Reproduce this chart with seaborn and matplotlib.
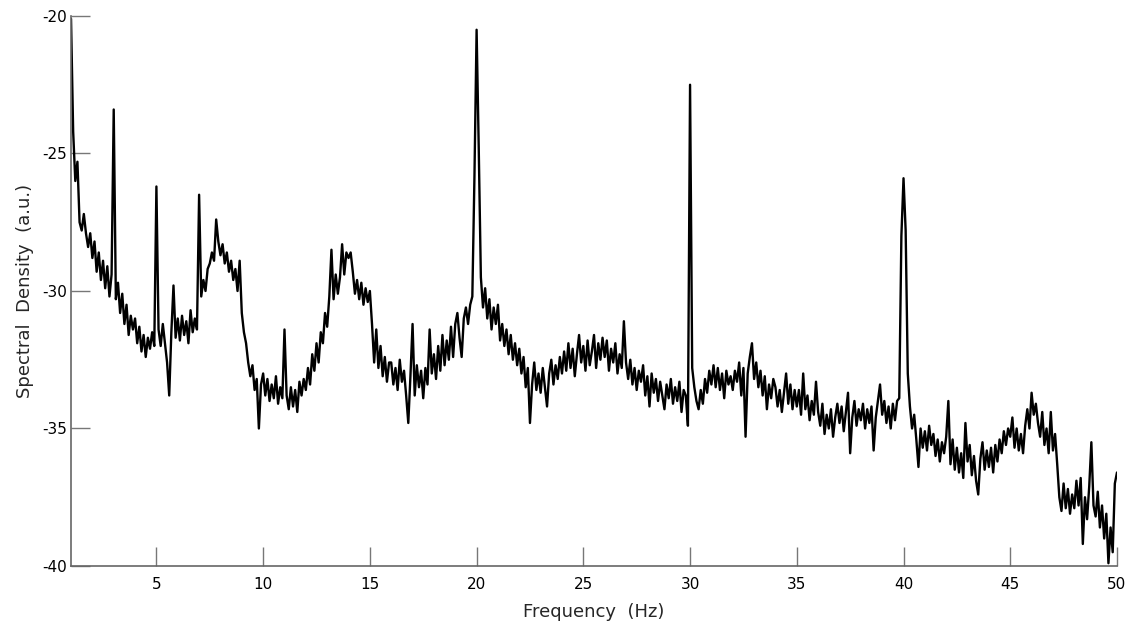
import numpy as np
import pandas as pd
import seaborn as sns
import matplotlib.pyplot as plt

# spectral density (a.u.), one row per Hz, 0.1 Hz steps
density_rows = [
    [-20.1, -24.2, -26.0, -25.3, -27.5, -27.8, -27.2, -27.9, -28.4, -27.9],  # 1
    [-28.8, -28.2, -29.3, -28.6, -29.6, -28.9, -29.9, -29.1, -30.2, -29.4],  # 2
    [-23.4, -30.3, -29.7, -30.8, -30.1, -31.2, -30.5, -31.6, -30.9, -31.4],  # 3
    [-31.0, -31.9, -31.3, -32.2, -31.6, -32.4, -31.7, -32.1, -31.5, -32.0],  # 4
    [-26.2, -31.4, -32.0, -31.2, -31.9, -32.6, -33.8, -31.5, -29.8, -31.7],  # 5
    [-31.0, -31.8, -30.9, -31.6, -31.1, -31.9, -30.7, -31.5, -31.0, -31.4],  # 6
    [-26.5, -30.2, -29.6, -30.0, -29.2, -29.0, -28.6, -28.9, -27.4, -28.2],  # 7
    [-28.7, -28.3, -29.0, -28.6, -29.3, -28.9, -29.6, -29.2, -30.0, -28.9],  # 8
    [-30.8, -31.5, -31.9, -32.6, -33.1, -32.7, -33.6, -33.2, -35.0, -33.4],  # 9
    [-33.0, -33.8, -33.2, -34.0, -33.4, -33.9, -33.1, -34.1, -33.5, -33.9],  # 10
    [-31.4, -33.8, -34.3, -33.5, -34.2, -33.6, -34.4, -33.3, -33.8, -33.2],  # 11
    [-33.6, -32.8, -33.4, -32.3, -32.9, -31.9, -32.6, -31.5, -31.9, -30.8],  # 12
    [-31.3, -30.2, -28.5, -30.3, -29.4, -30.1, -29.5, -28.3, -29.4, -28.6],  # 13
    [-28.8, -28.6, -29.3, -30.1, -29.6, -30.3, -29.7, -30.5, -29.9, -30.4],  # 14
    [-30.0, -31.2, -32.6, -31.4, -32.8, -32.0, -33.1, -32.4, -33.3, -32.6],  # 15
    [-32.6, -33.4, -32.8, -33.6, -32.5, -33.3, -32.9, -33.8, -34.8, -33.1],  # 16
    [-31.2, -33.8, -32.7, -33.5, -32.9, -33.9, -32.8, -33.4, -31.4, -33.0],  # 17
    [-32.3, -33.2, -32.0, -32.9, -31.6, -32.7, -31.8, -32.5, -31.3, -32.4],  # 18
    [-31.2, -30.8, -31.7, -32.4, -31.0, -30.6, -31.2, -30.5, -30.2, -25.8],  # 19
    [-20.5, -24.8, -29.5, -30.6, -29.9, -31.0, -30.3, -31.4, -30.6, -31.2],  # 20
    [-30.5, -31.8, -31.2, -32.0, -31.4, -32.3, -31.6, -32.5, -31.9, -32.7],  # 21
    [-32.1, -33.0, -32.4, -33.5, -32.8, -34.8, -33.4, -32.6, -33.6, -33.0],  # 22
    [-33.7, -32.8, -33.5, -34.2, -33.0, -32.5, -33.4, -32.7, -33.2, -32.4],  # 23
    [-33.0, -32.2, -32.9, -31.9, -32.8, -32.1, -33.1, -32.3, -31.6, -32.6],  # 24
    [-32.0, -32.9, -31.8, -32.7, -32.2, -31.6, -32.8, -31.9, -32.5, -31.7],  # 25
    [-32.4, -31.8, -32.9, -32.1, -32.6, -31.9, -33.0, -32.3, -32.8, -31.1],  # 26
    [-32.6, -33.2, -32.5, -33.4, -32.8, -33.6, -32.9, -33.3, -32.7, -33.8],  # 27
    [-33.1, -34.2, -33.0, -33.7, -33.2, -34.0, -33.3, -33.8, -34.3, -33.4],  # 28
    [-33.9, -33.2, -34.1, -33.5, -34.0, -33.3, -34.4, -33.6, -33.8, -34.9],  # 29
    [-22.5, -32.8, -33.5, -34.0, -34.3, -33.6, -34.1, -33.2, -33.7, -32.9],  # 30
    [-33.4, -32.7, -33.5, -32.8, -33.6, -33.0, -33.9, -32.9, -33.4, -33.1],  # 31
    [-33.6, -32.9, -33.3, -32.6, -33.8, -32.8, -35.3, -33.0, -32.4, -31.9],  # 32
    [-33.2, -32.6, -33.5, -32.9, -33.8, -33.1, -34.3, -33.4, -33.9, -33.2],  # 33
    [-33.5, -34.2, -33.6, -34.4, -33.7, -33.0, -34.1, -33.4, -34.3, -33.6],  # 34
    [-34.2, -33.6, -34.5, -33.0, -34.3, -33.8, -34.7, -34.0, -34.5, -33.3],  # 35
    [-34.4, -34.9, -34.1, -35.2, -34.5, -35.0, -34.3, -35.3, -34.6, -34.1],  # 36
    [-34.8, -34.2, -35.1, -34.4, -33.7, -35.9, -34.6, -34.0, -34.9, -34.3],  # 37
    [-34.7, -34.1, -35.0, -34.3, -34.8, -34.2, -35.8, -34.6, -34.0, -33.4],  # 38
    [-34.5, -34.0, -34.8, -34.2, -35.0, -34.1, -34.7, -34.0, -33.9, -28.0],  # 39
    [-25.9, -27.8, -33.0, -34.2, -35.0, -34.5, -35.4, -36.4, -35.0, -35.7],  # 40
    [-35.1, -35.8, -34.9, -35.6, -35.2, -36.0, -35.4, -36.2, -35.5, -35.9],  # 41
    [-35.3, -34.0, -36.3, -35.4, -36.5, -35.7, -36.6, -35.9, -36.8, -34.8],  # 42
    [-36.2, -35.6, -36.7, -36.0, -36.9, -37.4, -36.1, -35.5, -36.5, -35.8],  # 43
    [-36.4, -35.7, -36.6, -35.6, -36.2, -35.4, -35.9, -35.1, -35.6, -35.0],  # 44
    [-35.3, -34.6, -35.7, -35.0, -35.8, -35.2, -35.9, -34.9, -34.3, -35.0],  # 45
    [-33.7, -34.5, -34.1, -34.8, -35.3, -34.4, -35.6, -35.0, -35.9, -34.4],  # 46
    [-35.8, -35.2, -36.3, -37.5, -38.0, -37.0, -37.9, -37.2, -38.1, -37.4],  # 47
    [-37.9, -36.9, -37.8, -36.8, -39.2, -37.5, -38.3, -37.1, -35.5, -37.8],  # 48
    [-38.2, -37.3, -38.6, -37.8, -39.0, -38.1, -39.9, -38.6, -39.5, -37.0],  # 49
    [-36.6],                                                                 # 50
]

x_ticks = [5, 10, 15, 20, 25, 30, 35, 40, 45, 50]
y_ticks = [-40, -35, -30, -25, -20]

density = [v for row in density_rows for v in row]
freq = np.linspace(1, 50, len(density))
df = pd.DataFrame({'freq': freq, 'density': density})

sns.set_style('white')
plt.rcParams['font.family'] = ['DejaVu Sans']
plt.rcParams['axes.unicode_minus'] = False

fig = plt.figure(figsize=(11.31, 6.35), dpi=100)
ax = fig.add_axes([0.0628, 0.1087, 0.9248, 0.8661])

sns.lineplot(data=df, x='freq', y='density', color='black', linewidth=1.7,
             estimator=None, ax=ax)

ax.set_xlim(1, 50)
ax.set_ylim(-40, -20)
ax.set_xticks(x_ticks)
ax.set_yticks(y_ticks)
ax.tick_params(direction='in', length=14, width=1, color='#777777',
               labelsize=11, labelcolor='black', bottom=True, left=True)
ax.tick_params(axis='x', pad=8)
ax.tick_params(axis='y', pad=3)

sns.despine(ax=ax)
for side in ['left', 'bottom']:
    ax.spines[side].set_color('#666666')
    ax.spines[side].set_linewidth(1.2)

ax.set_xlabel('Frequency  (Hz)', fontsize=13, labelpad=8)
ax.set_ylabel('Spectral  Density  (a.u.)', fontsize=13, labelpad=6)

fig.savefig('out.png', dpi=100)
